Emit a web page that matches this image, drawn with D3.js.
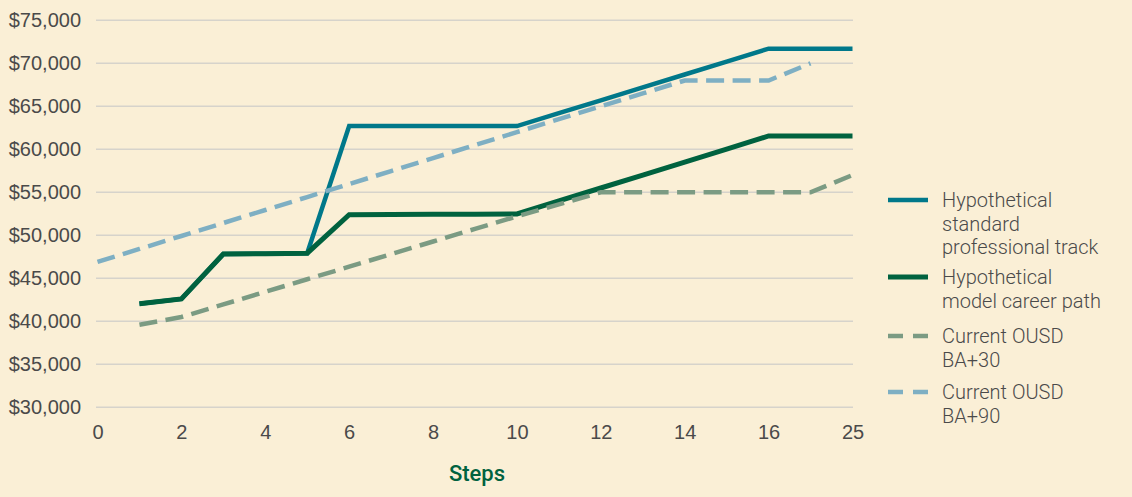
<!DOCTYPE html>
<html>
<head>
<meta charset="utf-8">
<script src="https://cdn.jsdelivr.net/npm/d3@7"></script>
<style>
    body { margin: 0; background: #faefd6; }
    svg { display: block; font-family: Roboto, sans-serif; }
</style>
</head>
<body>
<div id="chart"></div>
<script>

// step categories (last one jumps to 25)
let steps = [0, 1, 2, 3, 4, 5, 6, 7, 8, 9, 10, 11, 12, 13, 14, 15, 16, 17, 25];
let tickSteps = [0, 2, 4, 6, 8, 10, 12, 14, 16, 25];
let salaryTicks = [30000, 35000, 40000, 45000, 50000, 55000, 60000, 65000, 70000, 75000];

// salaries by step (null = no value)
let standardTrack = [null, 42050, 42600, 47830, 47860, 47920, 62700, 62700, 62700, 62700, 62700,
    64200, 65700, 67200, 68700, 70200, 71700, 71700, 71700];
let modelCareer = [null, 42050, 42600, 47830, 47860, 47920, 52400, 52420, 52440, 52460, 52480,
    53990, 55500, 57000, 58520, 60030, 61550, 61550, 61550];
let ousdBA30 = [null, 39600, 40500, 41960, 43430, 44890, 46350, 47810, 49280, 50740, 52200,
    53600, 55000, 55000, 55000, 55000, 55000, 55000, 57000];
let ousdBA90 = [46900, 48410, 49920, 51430, 52940, 54450, 55960, 57470, 58980, 60490, 62000,
    63500, 65000, 66500, 68000, 68000, 68000, 70000, null];

let series = [
    {name: ["Hypothetical", "standard", "professional track"], values: standardTrack, color: "#00788a", dash: null, width: 4.5},
    {name: ["Hypothetical", "model career path"], values: modelCareer, color: "#00623f", dash: null, width: 5},
    {name: ["Current OUSD", "BA+30"], values: ousdBA30, color: "#7b9b83", dash: "18,8.5", width: 4.5},
    {name: ["Current OUSD", "BA+90"], values: ousdBA90, color: "#7eafc3", dash: "18,8.5", width: 4.5}
];

let width = 1132, height = 497;

let svg = d3.select("#chart").append("svg")
    .attr("width", width)
    .attr("height", height);

// scales: x is step index, y is salary
let x = d3.scaleLinear()
    .domain([0, steps.length - 1])
    .range([97.5, 852.5]);

let y = d3.scaleLinear()
    .domain([30000, 75000])
    .range([407.3, 20.3]);

// gridlines
svg.append("g")
    .attr("class", "grid")
    .selectAll("line")
    .data(salaryTicks)
    .enter().append("line")
    .attr("x1", 96)
    .attr("x2", 853)
    .attr("y1", d => y(d))
    .attr("y2", d => y(d))
    .attr("stroke", "#d6d3cb")
    .attr("stroke-width", 1.5);

// y axis
let yAxis = svg.append("g")
    .attr("transform", "translate(81,0)")
    .call(d3.axisLeft(y).tickValues(salaryTicks).tickSize(0).tickPadding(0)
        .tickFormat(d => "$" + d3.format(",")(d)));
yAxis.select(".domain").remove();
yAxis.selectAll("text")
    .style("font-size", "20px")
    .style("font-weight", 300)
    .attr("fill", "#4a4a4a");

// x axis
let xAxis = svg.append("g")
    .attr("transform", "translate(0,424)")
    .call(d3.axisBottom(x)
        .tickValues(tickSteps.map(s => steps.indexOf(s)))
        .tickSize(0).tickPadding(0)
        .tickFormat(i => steps[i]));
xAxis.select(".domain").remove();
xAxis.selectAll("text")
    .attr("dy", "0.75em")
    .style("font-size", "20px")
    .style("font-weight", 300)
    .attr("fill", "#4a4a4a");

// x axis title
svg.append("text")
    .attr("x", 477)
    .attr("y", 481)
    .attr("text-anchor", "middle")
    .style("font-size", "22px")
    .style("font-weight", 500)
    .attr("fill", "#00623f")
    .text("Steps");

// lines
let line = d3.line()
    .defined(d => d != null)
    .x((d, i) => x(i))
    .y(d => y(d));

svg.append("g")
    .attr("class", "lines")
    .selectAll("path")
    .data(series)
    .enter().append("path")
    .attr("fill", "none")
    .attr("stroke", d => d.color)
    .attr("stroke-width", d => d.width)
    .attr("stroke-dasharray", d => d.dash)
    .attr("stroke-linejoin", "miter")
    .attr("d", d => line(d.values));

// legend
let legendY = [200, 277, 336, 392];
let legend = svg.append("g")
    .attr("class", "legend")
    .selectAll("g")
    .data(series)
    .enter().append("g")
    .attr("transform", (d, i) => "translate(888," + legendY[i] + ")");

legend.append("line")
    .attr("x1", 0)
    .attr("x2", 40)
    .attr("stroke", d => d.color)
    .attr("stroke-width", d => d.width)
    .attr("stroke-dasharray", d => d.dash ? "15,10" : null);

legend.append("text")
    .attr("x", 54)
    .attr("y", 7)
    .style("font-size", "20px")
    .style("font-weight", 300)
    .attr("fill", "#4a4a4a")
    .selectAll("tspan")
    .data(d => d.name)
    .enter().append("tspan")
    .attr("x", 54)
    .attr("dy", (d, i) => i === 0 ? 0 : 23.5)
    .text(d => d);

</script>
</body>
</html>
